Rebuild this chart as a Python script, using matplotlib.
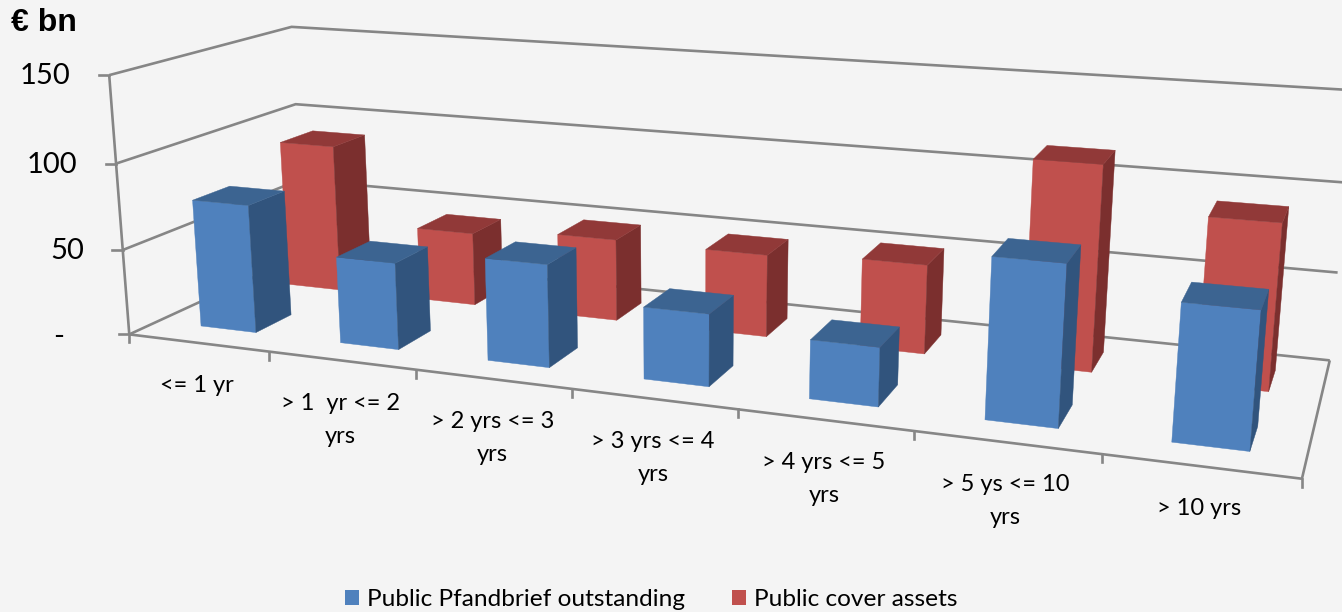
import numpy as np
import matplotlib
matplotlib.use("Agg")
import matplotlib.pyplot as plt
from matplotlib.patches import Polygon, Patch

# ---- data ----
categories = ["<= 1 yr", "> 1  yr <= 2\nyrs", "> 2 yrs <= 3\nyrs", "> 3 yrs <= 4\nyrs",
              "> 4 yrs <= 5\nyrs", "> 5 ys <= 10\nyrs", "> 10 yrs"]
pfandbrief = [75, 50, 58, 40, 32, 85, 71]
cover = [90, 44, 48.5, 48, 51, 114.5, 91]
z_ticks = [0, 50, 100, 150]
z_tick_labels = ["-", "50", "100", "150"]
series_names = ["Public Pfandbrief outstanding", "Public cover assets"]
unit_label = "€ bn"

# ---- styles ----
BG = "#F4F4F4"
GRID = "#868686"
BLUE = dict(front="#4F81BD", side="#31547D", top="#3C6491")
RED = dict(front="#C0504D", side="#7B2F2E", top="#913938")
plt.rcParams["font.family"] = ["Lato", "DejaVu Sans"]

# ---- camera: projective map from (category, depth, value) to picture pixels ----
cal_world = [(0,0,0),(1,0,0),(2,0,0),(3,0,0),(4,0,0),(5,0,0),(6,0,0),(7,0,0),
             (0,0,50),(0,0,100),(0,0,150),(0,1,150),(0,1,100),(7,1,50),(7,1,0),(0,1,0)]
cal_pix = [(129.3,335),(269,353),(416,370),(572.7,389),(738,410),(914,432),(1102,452.7),(1301.7,478),
           (123.3,250),(116.7,162.7),(108.3,74),(291.7,27.7),(295.7,105.3),(1337.7,272.3),(1330,361),(303,252)]
rows, rhs = [], []
for (X, Y, Z), (u, v) in zip(cal_world, cal_pix):
    Z = Z / 50
    rows.append([X, Y, Z, 1, 0, 0, 0, 0, -u*X, -u*Y, -u*Z]); rhs.append(u)
    rows.append([0, 0, 0, 0, X, Y, Z, 1, -v*X, -v*Y, -v*Z]); rhs.append(v)
M = np.append(np.linalg.lstsq(np.array(rows, float), np.array(rhs, float), rcond=None)[0], 1).reshape(3, 4)

def proj(x, y, z):
    q = M @ np.array([x, y, z / 50, 1.0])
    return q[:2] / q[2]

W, H = 1342, 612
fig = plt.figure(figsize=(W / 100, H / 100), dpi=100, facecolor=BG)
ax = fig.add_axes([0, 0, 1, 1])
ax.set_xlim(0, W); ax.set_ylim(H, 0); ax.axis("off")

n = len(categories)
LW = 1.9

def line(pts, **kw):
    p = np.array([proj(*q) for q in pts])
    ax.plot(p[:, 0], p[:, 1], color=GRID, lw=LW, solid_capstyle="butt", solid_joinstyle="miter", zorder=1, **kw)

# walls and floor
for z in z_ticks:
    line([(0, 0, z), (0, 1, z), (n, 1, z)])
    a = proj(0, 0, z)
    ax.plot([a[0] - 10.5, a[0]], [a[1], a[1]], color=GRID, lw=LW, zorder=1)
line([(0, 0, 0), (0, 0, z_ticks[-1])])
line([(0, 0, 0), (n, 0, 0), (n, 1, 0)])
for i in range(n + 1):
    a = proj(i, 0, 0)
    ax.plot([a[0], a[0]], [a[1], a[1] + 8], color=GRID, lw=LW, zorder=1)

# bars
X0, X1 = 0.315, 0.715
def bar(i, y0, y1, h, style, zo):
    x0, x1 = i + X0, i + X1
    faces = [("front", [(x0,y0,0),(x1,y0,0),(x1,y0,h),(x0,y0,h)]),
             ("side",  [(x1,y0,0),(x1,y1,0),(x1,y1,h),(x1,y0,h)]),
             ("top",   [(x0,y0,h),(x1,y0,h),(x1,y1,h),(x0,y1,h)])]
    for name, pts in faces:
        ax.add_patch(Polygon([proj(*q) for q in pts], closed=True, facecolor=style[name],
                             edgecolor=style[name], lw=0.3, zorder=zo))

for i, h in enumerate(cover):
    bar(i, 0.65, 0.85, h, RED, 2 + i * 0.01)
for i, h in enumerate(pfandbrief):
    bar(i, 0.15, 0.35, h, BLUE, 3 + i * 0.01)

# value axis labels
for z, lab in zip(z_ticks, z_tick_labels):
    a = proj(0, 0, z)
    if lab == "-":
        ax.text(64, a[1] + 3, lab, ha="right", va="center", fontsize=21)
    else:
        ax.text(70 + 7 * (150 - z) / 50, a[1] + 1, lab, ha="right", va="center", fontsize=21)
ax.text(11, 23, unit_label, fontsize=23, fontweight="bold", va="center", ha="left",
        family=["Liberation Sans", "DejaVu Sans"])

# category labels sit below the front edge
for i, lab in enumerate(categories):
    a = proj(i + 0.5, 0, 0)
    parts = lab.split("\n")
    ax.text(a[0] - 1, a[1] + 42.5, parts[0], ha="center", va="center", fontsize=17)
    if len(parts) > 1:
        ax.text(a[0] - 1, a[1] + 75.5, parts[1], ha="center", va="center", fontsize=17)

# legend
handles = [Patch(facecolor=BLUE["front"], edgecolor="none"), Patch(facecolor=RED["front"], edgecolor="none")]
ax.legend(handles, series_names, ncol=2, frameon=False, loc="center", bbox_to_anchor=(651.5 / W, 1 - 600 / H),
          fontsize=17.6, handlelength=0.57, handleheight=0.57, handletextpad=0.33, columnspacing=1.92,
          borderpad=0, borderaxespad=0)

fig.savefig("out.png", dpi=100, facecolor=BG)
